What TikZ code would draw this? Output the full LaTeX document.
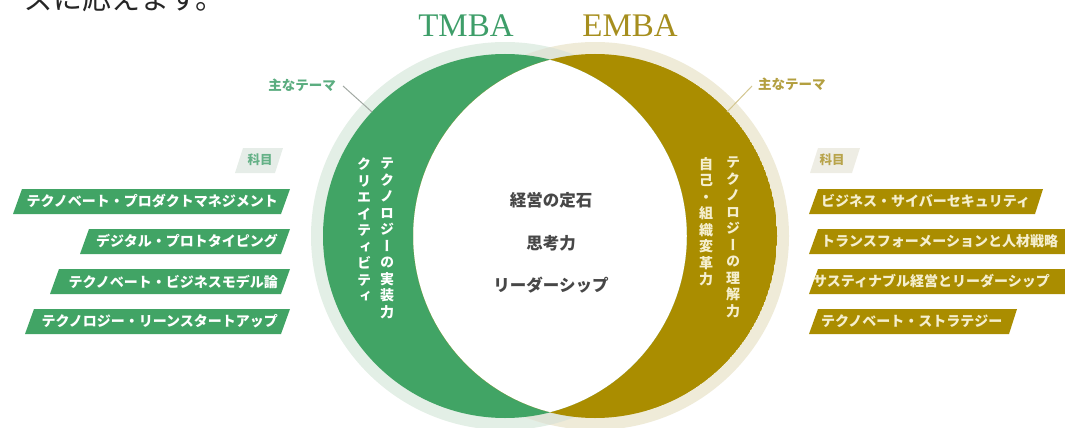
\documentclass[tikz,border=0pt]{standalone}
\usepackage{fontspec}
\setmainfont{Liberation Serif}
\newfontfamily\jp{Noto Sans CJK JP}
\newfontfamily\jpv[RawFeature=+vert]{Noto Sans CJK JP}
\definecolor{tgreen}{HTML}{41A465}
\definecolor{tgold}{HTML}{AA8D00}
\definecolor{ghalo}{HTML}{E3EFE6}
\definecolor{dhalo}{HTML}{EFEBD8}
\definecolor{gtitle}{HTML}{3E9E69}
\definecolor{dtitle}{HTML}{A68E1E}
\definecolor{cream}{HTML}{F5EFCF}
\definecolor{ctext}{HTML}{474747}
\definecolor{gtag}{HTML}{E6EDE8}
\definecolor{dtag}{HTML}{EEEDE4}
\tikzset{
  ttl/.style={font=\fontsize{33}{36}\selectfont, inner sep=0pt, anchor=base},
  theme/.style={font=\jp\bfseries\fontsize{13.5}{15}\selectfont, inner sep=0pt},
  boxtxt/.style={font=\jp\bfseries\fontsize{14}{16}\selectfont, inner sep=0pt},
  vtxt/.style={font=\jpv\bfseries\fontsize{14}{16.5}\selectfont, inner sep=0pt, align=center, anchor=north},
  ctr/.style={font=\jp\bfseries\fontsize{16.5}{18}\selectfont, inner sep=0pt, text=ctext},
  tagtxt/.style={font=\jp\bfseries\fontsize{12.5}{14}\selectfont, inner sep=0pt},
}
\def\CL{(505,236) circle[radius=182pt]}
\def\CR{(595,236) circle[radius=182pt]}
\begin{document}
\begin{tikzpicture}[x=1pt,y=-1pt]
\useasboundingbox (0,0) rectangle (1065,428);
\clip (0,0) rectangle (1065,428);
% cut-off sentence at top
\node[font=\jp\fontsize{29}{30}\selectfont, text=black!85, anchor=base west, inner sep=0pt] (top) at (-3,10) {ーズに応えます。};
% halos
\fill[ghalo] (505,236) circle[radius=194pt];
\fill[dhalo] (595,236) circle[radius=194pt];
\begin{scope}
\clip (505,236) circle[radius=194pt];
\fill[ghalo!55!dhalo!96!black] (595,236) circle[radius=194pt];
\end{scope}
% lens
\begin{scope}
\clip \CL;
\fill[white] \CR;
\end{scope}
% crescents
\begin{scope}
\clip \CL;
\fill[tgreen, even odd rule] \CL \CR;
\end{scope}
\begin{scope}
\clip \CR;
\fill[tgold, even odd rule] \CR \CL;
\end{scope}
% titles
\node[ttl, text=gtitle] (tmba) at (466,37) {TMBA};
\node[ttl, text=dtitle] (emba) at (630,37) {EMBA};
% main themes
\node[theme, text=gtitle!85!white, anchor=east] (lth) at (336,85) {主なテーマ};
\node[theme, text=dtitle!85!white, anchor=west] (rth) at (758,84) {主なテーマ};
\coordinate (lths) at (343,86);
\coordinate (lthe) at (372,112);
\coordinate (rths) at (752,86);
\coordinate (rthe) at (727,112);
\draw[black!25!ghalo!80!gray, line width=1pt] (lths) -- (lthe);
\draw[dtitle!50!white, line width=1pt] (rths) -- (rthe);
% vertical texts
\node[vtxt, text=white] (v1) at (387,158) {テ\\ク\\ノ\\ロ\\ジ\\ー\\の\\実\\装\\力};
\node[vtxt, text=white] (v2) at (364,158) {ク\\リ\\エ\\イ\\テ\\ィ\\ビ\\テ\\ィ};
\node[vtxt, text=cream] (v3) at (733,157) {テ\\ク\\ノ\\ロ\\ジ\\ー\\の\\理\\解\\力};
\node[vtxt, text=cream] (v4) at (706,157) {自\\己\\・\\組\\織\\変\\革\\力};
% center
\node[ctr] (c1) at (551,200) {経営の定石};
\node[ctr] (c2) at (551,243) {思考力};
\node[ctr] (c3) at (551,285) {リーダーシップ};
% tags
\fill[gtag] (235,173) -- (243,148) -- (283,148) -- (275,173) -- cycle;
\node[tagtxt, text=gtitle!80!white] (ltag) at (260,160) {科目};
\fill[dtag] (810,173) -- (818,148) -- (860,148) -- (852,173) -- cycle;
\node[tagtxt, text=dtitle!80!white] (rtag) at (832,160) {科目};
% left boxes
\foreach \b/\t/\txt [count=\i] in {13/189/テクノベート・プロダクトマネジメント, 80/229/デジタル・プロトタイピング, 50/269/テクノベート・ビジネスモデル論, 25/309/テクノロジー・リーンスタートアップ}{
  \fill[tgreen] (\b,\t+25) -- (\b+9,\t) -- (290,\t) -- (281,\t+25) -- cycle;
  \node[boxtxt, text=white, anchor=east] (lb\i) at (278,\t+12.5) {\txt};
}
% right boxes
\foreach \r/\t/\tx/\txt [count=\i] in {1043/189/821/ビジネス・サイバーセキュリティ, 1080/229/821/トランスフォーメーションと人材戦略, 1080/269/813/サスティナブル経営とリーダーシップ, 1017/309/821/テクノベート・ストラテジー}{
  \fill[tgold] (809,\t+25) -- (818,\t) -- (\r,\t) -- (\r-8,\t+25) -- cycle;
  \node[boxtxt, text=cream, anchor=west] (rb\i) at (\tx,\t+12.5) {\txt};
}
\end{tikzpicture}
\end{document}
